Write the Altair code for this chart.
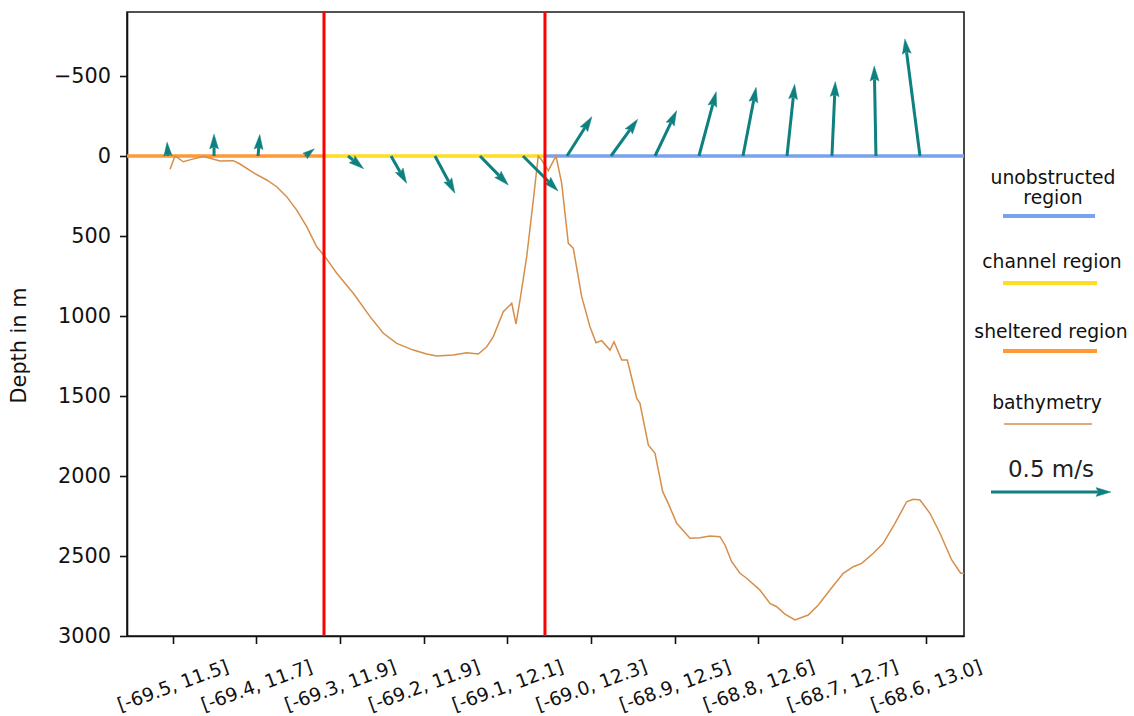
import json
import math
import altair as alt
import pandas as pd

# ---------------- data ----------------
# x is measured in "tick units": tick k carries tick_labels[k]
tick_labels = ["[-69.5, 11.5]", "[-69.4, 11.7]", "[-69.3, 11.9]", "[-69.2, 11.9]", "[-69.1, 12.1]",
               "[-69.0, 12.3]", "[-68.9, 12.5]", "[-68.8, 12.6]", "[-68.7, 12.7]", "[-68.6, 13.0]"]
tick_values = list(range(10))
x_domain = [-0.544, 9.457]
depth_domain = [-900, 3000]
depth_ticks = [-500, 0, 500, 1000, 1500, 2000, 2500, 3000]

bathy_x = [-0.030, 0.030, 0.129, 0.229, 0.368, 0.448, 0.568, 0.726, 0.806, 0.965,
           1.125, 1.245, 1.364, 1.484, 1.603, 1.723, 1.822, 1.962, 2.160, 2.360,
           2.519, 2.679, 2.877, 3.037, 3.156, 3.355, 3.515, 3.654, 3.754, 3.833,
           3.952, 4.053, 4.104, 4.152, 4.232, 4.311, 4.370, 4.411, 4.490, 4.582,
           4.650, 4.729, 4.789, 4.889, 4.988, 5.060, 5.128, 5.227, 5.275, 5.367,
           5.434, 5.546, 5.585, 5.685, 5.765, 5.857, 5.923, 6.024, 6.183, 6.302,
           6.422, 6.541, 6.601, 6.681, 6.780, 6.860, 7.019, 7.139, 7.219, 7.318,
           7.437, 7.596, 7.716, 7.855, 8.014, 8.134, 8.234, 8.373, 8.492, 8.632,
           8.772, 8.851, 8.931, 9.050, 9.170, 9.310, 9.417, 9.470]
bathy_depth = [83, 0, 36, 21, 4, 14, 31, 29, 50, 104,
               150, 192, 254, 338, 442, 567, 629, 733, 858, 1004,
               1108, 1171, 1213, 1238, 1250, 1244, 1229, 1238, 1192, 1129,
               973, 921, 1050, 900, 629, 275, 0, 25, 92, 0,
               171, 546, 577, 879, 1067, 1167, 1154, 1213, 1161, 1275,
               1275, 1514, 1546, 1806, 1858, 2098, 2171, 2296, 2389, 2386,
               2375, 2379, 2431, 2536, 2608, 2639, 2713, 2796, 2817, 2863,
               2900, 2869, 2806, 2713, 2608, 2567, 2546, 2483, 2421, 2296,
               2161, 2146, 2150, 2233, 2358, 2525, 2608, 2608]

region_names = ["sheltered region", "channel region", "unobstructed region"]
region_x0 = [-0.544, 1.81, 4.45]
region_x1 = [1.81, 4.45, 9.457]
boundary_x = [1.81, 4.45]

arrow_x = [-0.054, 0.496, 1.022, 1.583, 2.097, 2.611, 3.136, 3.674, 4.188,
           4.713, 5.239, 5.765, 6.290, 6.816, 7.342, 7.879, 8.405, 8.931]
arrow_u = [-0.004, 0.000, 0.007, 0.039, 0.065, 0.065, 0.083, 0.118, 0.146,
           0.104, 0.111, 0.090, 0.072, 0.055, 0.032, 0.014, -0.007, -0.063]
arrow_v = [0.058, 0.092, 0.090, 0.030, -0.053, -0.114, -0.155, -0.121, -0.146,
           0.164, 0.153, 0.189, 0.268, 0.286, 0.299, 0.310, 0.375, 0.488]
key_speed = 0.5

# ---------------- style ----------------
W, H = 837, 624
FONT = "DejaVu Sans"
C_RED = "#FF0000"
C_TEAL = "#0E8080"
C_BATHY = "#D68E4A"
region_colors = ["#FF9933", "#FFDD22", "#79A1EE"]
KEY_PX = 120.0                    # length of the key arrow in pixels
PX_PER_MS = KEY_PX / key_speed    # quiver scale
SHAFT_W = 3.0
HEAD_LEN, HEAD_AXIS = 15.0, 13.5
HEAD_PATH = "M0,0 L4.5,15 L1.5,13.5 L-1.5,13.5 L-4.5,15 Z"

px_per_x = W / (x_domain[1] - x_domain[0])
px_per_m = H / (depth_domain[1] - depth_domain[0])

# ---------------- frames ----------------
bathy_df = pd.DataFrame({"x": bathy_x, "depth": bathy_depth})
reg_df = pd.DataFrame({"name": region_names, "x0": region_x0, "x1": region_x1,
                       "depth": [0] * len(region_names)})
bound_df = pd.DataFrame({"x": boundary_x})

rows = []
for x0, u, v in zip(arrow_x, arrow_u, arrow_v):
    dxp, dyp = u * PX_PER_MS, -v * PX_PER_MS
    L = math.hypot(dxp, dyp)
    shrink = min(1.0, L / HEAD_LEN)
    frac = max(0.0, 1 - HEAD_AXIS * shrink / L) if L > 0 else 0
    rows.append({
        "x": x0, "depth": 0.0,
        "x_tip": x0 + dxp / px_per_x, "d_tip": dyp / px_per_m,
        "x_sh": x0 + dxp * frac / px_per_x, "d_sh": dyp * frac / px_per_m,
        "angle": math.degrees(math.atan2(dxp, -dyp)) % 360,
        "size": 4 * shrink ** 2, "sw": SHAFT_W * shrink,
    })
arr_df = pd.DataFrame(rows)

xscale = alt.Scale(domain=x_domain, nice=False, zero=False)
yscale = alt.Scale(domain=depth_domain, reverse=True, nice=False, zero=False)
label_expr = json.dumps(tick_labels) + "[datum.value]"
xaxis = alt.Axis(values=tick_values, labelExpr=label_expr, labelAngle=340,
                 labelAlign="center", labelBaseline="middle", labelPadding=42,
                 labelFontSize=18.75, labelOverlap=False, labelFlush=False, grid=False,
                 labelFont=FONT)
yaxis = alt.Axis(values=depth_ticks, format="d", labelFontSize=20.8, labelPadding=9,
                 labelFlush=False, grid=False, titleFontSize=20.8, titleFontWeight="normal",
                 titleX=-108, titleY=333, titleAngle=270, titleAlign="center",
                 titleBaseline="middle", labelFont=FONT, titleFont=FONT)


def X(f):
    return alt.X(f"{f}:Q", scale=xscale, axis=xaxis, title=None)


def Y(f):
    return alt.Y(f"{f}:Q", scale=yscale, axis=yaxis, title="Depth in m")


regions = alt.Chart(reg_df).mark_rule(strokeWidth=3.3).encode(
    x=X("x0"), x2="x1", y=Y("depth"),
    color=alt.Color("name:N", scale=alt.Scale(domain=region_names, range=region_colors), legend=None),
)
bathy = alt.Chart(bathy_df).mark_line(color=C_BATHY, strokeWidth=1.5, clip=True).encode(
    x=X("x"), y=Y("depth"), order="x:Q"
)
shafts = alt.Chart(arr_df).mark_rule(color=C_TEAL, strokeCap="butt").encode(
    x=X("x"), y=Y("depth"), x2="x_sh", y2="d_sh",
    strokeWidth=alt.StrokeWidth("sw:Q", scale=None, legend=None),
)
heads = alt.Chart(arr_df).mark_point(shape=HEAD_PATH, filled=True, color=C_TEAL, opacity=1,
                                     stroke=C_TEAL, strokeWidth=0.4).encode(
    x=X("x_tip"), y=Y("d_tip"),
    angle=alt.Angle("angle:Q", scale=None),
    size=alt.Size("size:Q", scale=None, legend=None),
)
bounds = alt.Chart(bound_df).mark_rule(color=C_RED, strokeWidth=3).encode(x=X("x"))

# ---------------- legend (drawn beside the plot) ----------------
one = pd.DataFrame({"a": [0]})
LX = 922  # legend centre, relative to plot origin


def ltext(txt, y, size=18.75, color="#111111", dx=0):
    return alt.Chart(one).mark_text(font=FONT, fontSize=size, color=color, align="center",
                                    baseline="middle").encode(
        x=alt.value(LX + dx), y=alt.value(y), text=alt.value(txt))


def lline(y, color, w, x0=876, x1=968):
    return alt.Chart(one).mark_rule(color=color, strokeWidth=w).encode(
        x=alt.value(x0), x2=alt.value(x1), y=alt.value(y))


legend = [
    ltext("unobstructed", 166, dx=4), ltext("region", 186, dx=4), lline(204, region_colors[2], 4),
    ltext("channel region", 250, dx=3), lline(271, region_colors[1], 4, 876, 970),
    ltext("sheltered region", 320, dx=2), lline(339, region_colors[0], 4, 876, 970),
    ltext("bathymetry", 391, dx=-2), lline(412, C_BATHY, 1.5, 877, 965),
    ltext("0.5 m/s", 458, size=23, color="#222222", dx=2),
    alt.Chart(one).mark_rule(color=C_TEAL, strokeWidth=SHAFT_W).encode(
        x=alt.value(864), x2=alt.value(864 + KEY_PX - HEAD_AXIS), y=alt.value(480)),
    alt.Chart(one).mark_point(shape=HEAD_PATH, filled=True, color=C_TEAL, opacity=1, size=4,
                              angle=90, stroke=C_TEAL, strokeWidth=0.4).encode(
        x=alt.value(864 + KEY_PX), y=alt.value(480)),
]

chart = alt.layer(regions, bathy, shafts, heads, bounds, *legend).properties(
    width=W, height=H,
    padding={"left": 127, "top": 12, "right": 170, "bottom": 80},
    autosize=alt.AutoSizeParams(type="none"),
).configure(background="white").configure_view(
    stroke="#1a1a1a", strokeWidth=1.6
).configure_axis(
    labelFont=FONT, titleFont=FONT, labelColor="#111111", titleColor="#111111",
    tickColor="#111111", tickWidth=1.6, tickSize=7.5, domainColor="#111111", domainWidth=1.6,
)

chart.save("out.html", embed_options={"renderer": "svg", "actions": False})
